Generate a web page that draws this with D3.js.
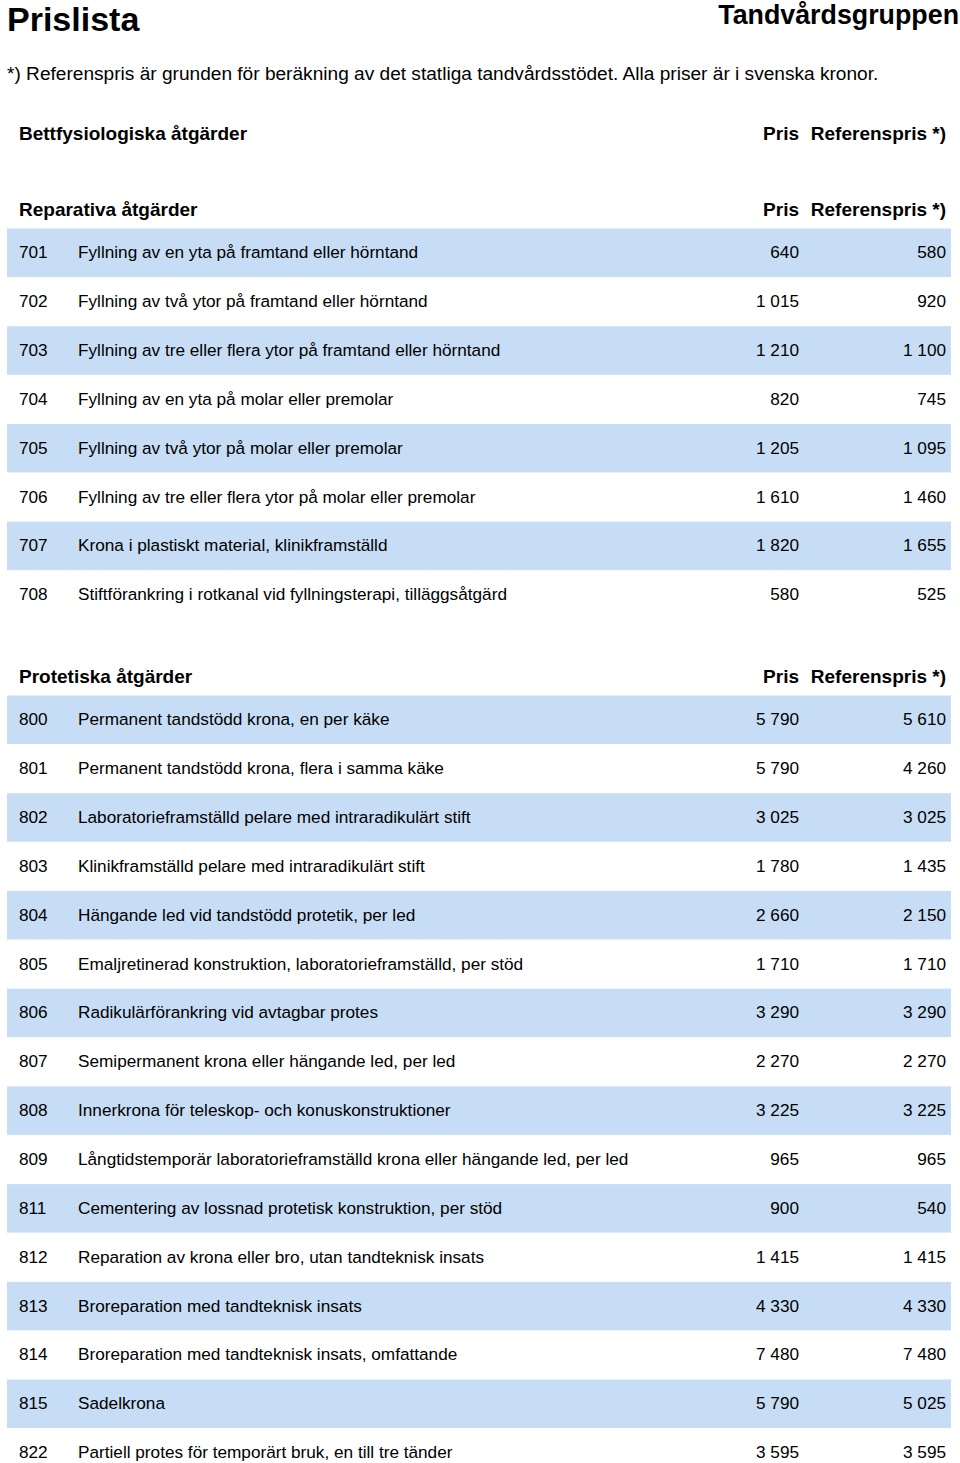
<!DOCTYPE html>
<html><head><meta charset="utf-8">
<script src="https://cdn.jsdelivr.net/npm/d3@7"></script>
<style>
html,body{margin:0;padding:0;background:#fff;}
svg{display:block;font-family:"Liberation Sans",Arial,sans-serif;}
</style></head>
<body>
<svg id="chart" width="960" height="1463"></svg>
<script>
const title = "Prislista";
const brand = "Tandvårdsgruppen";
const footnote = "*) Referenspris är grunden för beräkning av det statliga tandvårdsstödet. Alla priser är i svenska kronor.";
const colHeaders = ["Pris", "Referenspris *)"];

const sectionTitles = ["Bettfysiologiska åtgärder", "Reparativa åtgärder", "Protetiska åtgärder"];

const repCodes = ["701","702","703","704","705","706","707","708"];
const repDescs = [
  "Fyllning av en yta på framtand eller hörntand",
  "Fyllning av två ytor på framtand eller hörntand",
  "Fyllning av tre eller flera ytor på framtand eller hörntand",
  "Fyllning av en yta på molar eller premolar",
  "Fyllning av två ytor på molar eller premolar",
  "Fyllning av tre eller flera ytor på molar eller premolar",
  "Krona i plastiskt material, klinikframställd",
  "Stiftförankring i rotkanal vid fyllningsterapi, tilläggsåtgärd"
];
const repPris = [640, 1015, 1210, 820, 1205, 1610, 1820, 580];
const repRef  = [580, 920, 1100, 745, 1095, 1460, 1655, 525];

const protCodes = ["800","801","802","803","804","805","806","807","808","809","811","812","813","814","815","822"];
const protDescs = [
  "Permanent tandstödd krona, en per käke",
  "Permanent tandstödd krona, flera i samma käke",
  "Laboratorieframställd pelare med intraradikulärt stift",
  "Klinikframställd pelare med intraradikulärt stift",
  "Hängande led vid tandstödd protetik, per led",
  "Emaljretinerad konstruktion, laboratorieframställd, per stöd",
  "Radikulärförankring vid avtagbar protes",
  "Semipermanent krona eller hängande led, per led",
  "Innerkrona för teleskop- och konuskonstruktioner",
  "Långtidstemporär laboratorieframställd krona eller hängande led, per led",
  "Cementering av lossnad protetisk konstruktion, per stöd",
  "Reparation av krona eller bro, utan tandteknisk insats",
  "Broreparation med tandteknisk insats",
  "Broreparation med tandteknisk insats, omfattande",
  "Sadelkrona",
  "Partiell protes för temporärt bruk, en till tre tänder"
];
const protPris = [5790, 5790, 3025, 1780, 2660, 1710, 3290, 2270, 3225, 965, 900, 1415, 4330, 7480, 5790, 3595];
const protRef  = [5610, 4260, 3025, 1435, 2150, 1710, 3290, 2270, 3225, 965, 540, 1415, 4330, 7480, 5025, 3595];

// ---- rendering ----
const W = 960, H = 1463;
const svg = d3.select("#chart");
const fmt = d3.formatLocale({decimal: ",", thousands: " ", grouping: [3], currency: ["", " kr"]}).format(",d");

const bandColor = "#c7ddf5";
const xCode = 19, xDesc = 78, xPris = 799, xRef = 946, bandL = 7, bandR = 951;
const rowStep = 48.86;
const rowFont = 17.2;

svg.append("text").attr("x", 7).attr("y", 31)
  .attr("font-size", 34).attr("font-weight", "bold").attr("fill", "#000").text(title);
svg.append("text").attr("x", 959).attr("y", 24).attr("text-anchor", "end")
  .attr("font-size", 26.8).attr("font-weight", "bold").attr("fill", "#000").text(brand);
svg.append("text").attr("x", 7).attr("y", 80)
  .attr("font-size", 19.1).attr("fill", "#000").text(footnote);

function sectionHeader(name, cy) {
  const g = svg.append("g");
  g.append("text").attr("x", xCode).attr("y", cy).attr("dy", "0.36em")
    .attr("font-size", 19).attr("font-weight", "bold").text(name);
  g.append("text").attr("x", xPris).attr("y", cy).attr("dy", "0.36em").attr("text-anchor", "end")
    .attr("font-size", 19).attr("font-weight", "bold").text(colHeaders[0]);
  g.append("text").attr("x", xRef).attr("y", cy).attr("dy", "0.36em").attr("text-anchor", "end")
    .attr("font-size", 19).attr("font-weight", "bold").text(colHeaders[1]);
}

function section(codes, descs, pris, ref, firstCy) {
  const n = codes.length;
  const y = d3.scaleLinear().domain([0, n - 1]).range([firstCy, firstCy + (n - 1) * rowStep]);
  const rows = codes.map((c, i) => ({code: c, desc: descs[i], pris: pris[i], ref: ref[i], i}));
  const g = svg.append("g");
  g.selectAll("rect").data(rows.filter(d => d.i % 2 === 0)).join("rect")
    .attr("x", bandL).attr("width", bandR - bandL)
    .attr("y", d => y(d.i) - 23.5).attr("height", 48.5)
    .attr("fill", bandColor);
  const r = g.selectAll("g.row").data(rows).join("g").attr("class", "row")
    .attr("transform", d => `translate(0,${y(d.i)})`)
    .attr("font-size", rowFont).attr("fill", "#000");
  r.append("text").attr("x", xCode).attr("dy", "0.36em").text(d => d.code);
  r.append("text").attr("x", xDesc).attr("dy", "0.36em").text(d => d.desc);
  r.append("text").attr("x", xPris).attr("dy", "0.36em").attr("text-anchor", "end").text(d => fmt(d.pris));
  r.append("text").attr("x", xRef).attr("dy", "0.36em").attr("text-anchor", "end").text(d => fmt(d.ref));
}

sectionHeader(sectionTitles[0], 133);
sectionHeader(sectionTitles[1], 209);
section(repCodes, repDescs, repPris, repRef, 252);
sectionHeader(sectionTitles[2], 676);
section(protCodes, protDescs, protPris, protRef, 719);
</script>
</body></html>
